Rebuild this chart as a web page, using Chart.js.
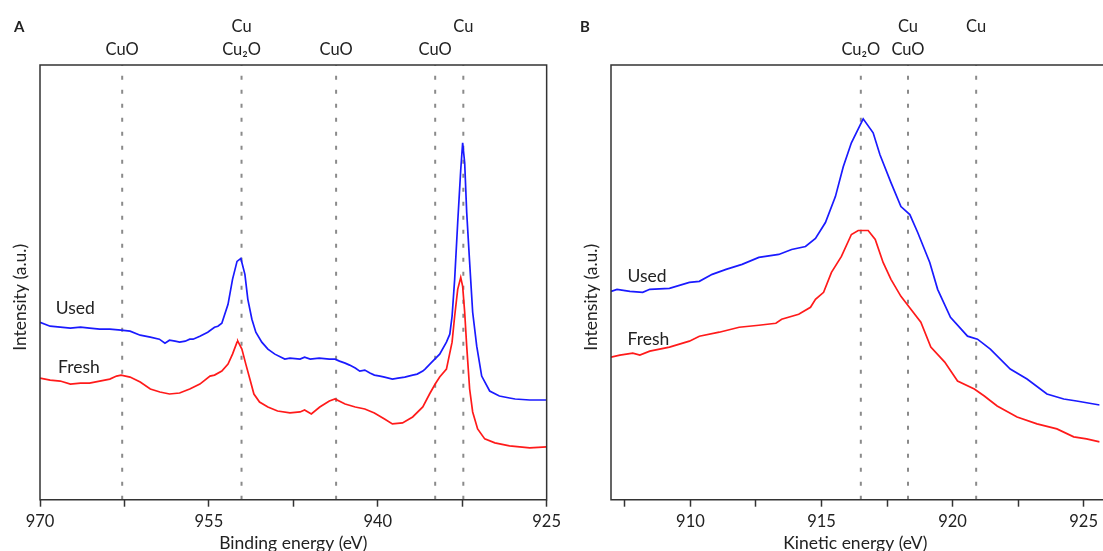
<!DOCTYPE html>
<html>
<head>
<meta charset="utf-8">
<script src="https://cdn.jsdelivr.net/npm/chart.js@4.4.0/dist/chart.umd.min.js"></script>
<style>
  html, body { margin: 0; padding: 0; background: #fff; overflow: hidden; }
  #wrapA { position: absolute; left: 0; top: 0; width: 566px; height: 558px; }
  #wrapB { position: absolute; left: 560px; top: 0; width: 543px; height: 558px; }
</style>
</head>
<body>
<div id="wrapA"><canvas id="chartA"></canvas></div>
<div id="wrapB"><canvas id="chartB"></canvas></div>
<script>
// ---- panel A : Cu 2p, binding energy (eV) vs intensity (a.u.) ----
var usedA = [[970,178],[969.1,174],[968.2,173],[967.3,172],[966.4,173],[965.6,172],[964.7,171],[963.8,171],
  [962.8,170],[962.0,169],[961.1,165],[960.2,163],[959.4,161],[958.9,157],[958.5,160],[958.0,159],[957.6,158],
  [957.1,159],[956.7,161],[956.4,161],[955.8,164],[955.1,168],[954.5,173],[954.2,174],[953.85,177],[953.3,196],
  [952.9,221],[952.5,239],[952.16,242],[951.8,226],[951.54,201],[951.18,181],[950.83,168],[950.3,158],[949.76,151],
  [949.14,146],[948.26,141],[947.8,142],[946.9,141],[946.5,143],[946.0,141],[945.2,142],[944.3,141],[943.8,141],
  [943.4,139],[942.9,137],[942.5,135],[942.0,132],[941.6,129],[941.15,130],[940.7,127],[940.3,125],[939.8,124],
  [939.4,123],[938.7,121],[938.2,122],[937.6,123],[936.9,125],[936.5,126],[936.0,129],[935.8,131],[935.2,138],
  [934.5,146],[933.9,158],[933.6,166],[933.4,184],[933.17,221],[932.9,278],[932.63,331],[932.46,358],[932.28,338],
  [932.1,288],[931.84,238],[931.57,188],[931.21,154],[930.77,124],[930.06,109],[929.2,104],[928.3,102],[927.8,101],
  [926.5,100],[925.0,100]];
var freshA = [[970,122],[969.1,120],[968.2,119],[967.3,116],[966.4,117],[965.6,117],[964.7,119],[963.8,121],
  [963.2,124],[962.8,125],[962.0,123],[961.1,118],[960.2,111],[959.35,108],[958.5,106],[957.6,107],[956.7,111],
  [955.8,116],[954.9,124],[954.5,125],[953.85,129],[953.3,136],[952.9,146],[952.5,158],[952.43,159],[952.07,151],
  [951.72,136],[951.36,121],[951.0,106],[950.5,98],[949.76,93],[948.9,89],[947.8,87],[946.9,88],[946.5,90],
  [945.9,86],[945.15,93],[944.3,99],[943.8,101],[942.9,96],[942.0,93],[941.15,91],[940.3,87],[939.4,81],[938.7,76],
  [937.8,77],[936.9,83],[936.0,93],[935.4,106],[934.9,116],[934.5,123],[933.9,131],[933.4,158],[933.17,184],
  [932.9,211],[932.63,223],[932.46,214],[932.28,188],[932.1,154],[931.84,111],[931.57,88],[931.13,71],[930.5,61],
  [929.6,57],[928.3,54],[926.5,52],[925.0,53]];
var markersA = [962.7, 952.1, 943.7, 934.9, 932.4];
var markerLabelsA = [['', 'CuO'], ['Cu', 'Cu₂O'], ['', 'CuO'], ['', 'CuO'], ['Cu', '']];
var ticksA = [970, 962.5, 955, 947.5, 940, 932.5, 925];
var tickLabelsA = [970, 955, 940, 925];

// ---- panel B : Cu LMM, kinetic energy (eV) vs intensity (a.u.) ----
var usedB = [[906.97,209],[907.2,211],[907.69,209],[908.18,208],[908.45,211],[909.2,212],[909.96,218],[910.34,219],
  [910.83,226],[911.36,231],[911.97,236],[912.61,243],[913.37,246],[913.86,251],[914.39,254],[914.77,262],
  [915.15,278],[915.53,304],[915.83,334],[916.14,358],[916.59,382],[916.97,368],[917.23,346],[917.65,318],
  [918.03,294],[918.37,286],[918.67,268],[919.13,238],[919.43,211],[919.92,183],[920.57,164],[920.95,161],
  [921.44,151],[922.2,131],[922.84,121],[923.6,106],[924.24,101],[924.73,99],[925.61,95]];
var freshB = [[906.97,143],[907.31,145],[907.8,147],[908.07,145],[908.45,149],[909.2,153],[909.96,159],[910.34,164],
  [911.1,168],[911.86,173],[912.61,175],[913.26,177],[913.48,181],[914.13,186],[914.58,193],[914.77,201],
  [915.08,208],[915.38,228],[915.76,244],[916.14,266],[916.4,270],[916.78,270],[917.05,261],[917.35,238],
  [917.65,221],[918.03,204],[918.41,191],[918.79,178],[919.17,153],[919.7,138],[920.19,119],[920.83,111],
  [921.21,104],[921.7,94],[922.46,83],[923.22,76],[923.98,71],[924.62,63],[925.11,61],[925.61,58]];
var markersB = [916.5, 918.3, 920.9];
var markerLabelsB = [['', 'Cu₂O'], ['Cu', 'CuO'], ['Cu', '']];
var ticksB = [907.5, 910, 912.5, 915, 917.5, 920, 922.5, 925];
var tickLabelsB = [910, 915, 920, 925];

var intensityMax = 436;
var FONT = 'Lato, "DejaVu Sans", sans-serif';
Chart.defaults.font.family = FONT;
Chart.defaults.color = '#222';

function toPoints(arr) {
  return arr.map(function (p) { return { x: p[0], y: p[1] }; });
}

// frame, y title, marker names, series names, panel letter
var decorPlugin = {
  id: 'decor',
  afterDraw: function (chart) {
    var o = chart.options.plugins.decor;
    var ctx = chart.ctx, a = chart.chartArea;
    var xs = chart.scales.x, ys = chart.scales.y;
    ctx.save();
    ctx.strokeStyle = '#333';
    ctx.lineWidth = 1.5;
    ctx.beginPath();
    if (o.closed) {
      ctx.rect(a.left, a.top, a.right - a.left, a.bottom - a.top);
    } else {
      ctx.moveTo(a.right + 5, a.top);
      ctx.lineTo(a.left, a.top);
      ctx.lineTo(a.left, a.bottom);
      ctx.lineTo(a.right + 5, a.bottom);
    }
    ctx.stroke();

    ctx.fillStyle = '#222';
    ctx.textAlign = 'center';
    ctx.textBaseline = 'middle';

    // y axis title
    ctx.save();
    ctx.translate(a.left - 20, (a.top + a.bottom) / 2 + 15);
    ctx.rotate(-Math.PI / 2);
    ctx.font = '17.5px ' + FONT;
    ctx.fillText('Intensity (a.u.)', 0, 0);
    ctx.restore();

    ctx.font = '16.5px ' + FONT;
    o.markers.forEach(function (m, i) {
      var px = xs.getPixelForValue(m);
      if (o.markerLabels[i][0]) ctx.fillText(o.markerLabels[i][0], px, 27);
      if (o.markerLabels[i][1]) ctx.fillText(o.markerLabels[i][1], px, 50);
    });

    ctx.textAlign = 'left';
    ctx.font = '17.5px ' + FONT;
    o.seriesLabels.forEach(function (s) {
      ctx.fillText(s.text, xs.getPixelForValue(s.x), ys.getPixelForValue(s.y));
    });

    ctx.font = 'bold 15px ' + FONT;
    ctx.fillText(o.letter, o.letterX, 27);
    ctx.restore();
  }
};

function makeChart(id, c) {
  var datasets = c.markers.map(function (m) {
    return {
      data: [{ x: m, y: 0 }, { x: m, y: intensityMax }],
      borderColor: '#8a8a8a', borderWidth: 2, borderDash: [4, 10],
      pointRadius: 0, order: 2
    };
  });
  datasets.push({ label: 'Used', data: toPoints(c.used), borderColor: '#1a1aff', borderWidth: 1.7, pointRadius: 0, order: 1 });
  datasets.push({ label: 'Fresh', data: toPoints(c.fresh), borderColor: '#ff1a1a', borderWidth: 1.7, pointRadius: 0, order: 1 });

  return new Chart(document.getElementById(id), {
    type: 'line',
    data: { datasets: datasets },
    options: {
      responsive: true,
      maintainAspectRatio: false,
      animation: false,
      layout: { padding: c.padding },
      plugins: {
        legend: { display: false },
        tooltip: { enabled: false },
        decor: {
          closed: c.closed, markers: c.markers, markerLabels: c.markerLabels,
          seriesLabels: c.seriesLabels, letter: c.letter, letterX: c.letterX
        }
      },
      scales: {
        x: {
          type: 'linear',
          min: c.min, max: c.max, reverse: c.reverse,
          afterBuildTicks: function (axis) {
            axis.ticks = c.ticks.map(function (v) { return { value: v }; });
          },
          ticks: {
            autoSkip: false, maxRotation: 0, padding: 5,
            font: { size: 16.5 }, color: '#222',
            callback: function (v) { return c.tickLabels.indexOf(v) >= 0 ? String(v) : ''; }
          },
          grid: { display: true, drawOnChartArea: false, drawTicks: true, tickLength: 7, tickColor: '#333', tickWidth: 1.5 },
          border: { display: false },
          title: { display: true, text: c.xTitle, font: { size: 17.5 }, color: '#222', padding: { top: -4, bottom: 4.5 } }
        },
        y: {
          display: false,
          min: 0, max: intensityMax
        }
      }
    },
    plugins: [decorPlugin]
  });
}

makeChart('chartA', {
  used: usedA, fresh: freshA, markers: markersA, markerLabels: markerLabelsA,
  ticks: ticksA, tickLabels: tickLabelsA, min: 925, max: 970, reverse: true,
  xTitle: 'Binding energy (eV)', closed: true, letter: 'A', letterX: 14,
  padding: { top: 65, left: 40, right: 0, bottom: 0 },
  seriesLabels: [{ text: 'Used', x: 968.6, y: 192 }, { text: 'Fresh', x: 968.4, y: 133 }]
});

makeChart('chartB', {
  used: usedB, fresh: freshB, markers: markersB, markerLabels: markerLabelsB,
  ticks: ticksB, tickLabels: tickLabelsB, min: 906.97, max: 925.61, reverse: false,
  xTitle: 'Kinetic energy (eV)', closed: false, letter: 'B', letterX: 20,
  padding: { top: 65, left: 51, right: 0, bottom: 0 },
  seriesLabels: [{ text: 'Used', x: 907.6, y: 224 }, { text: 'Fresh', x: 907.6, y: 161 }]
});
</script>
</body>
</html>
